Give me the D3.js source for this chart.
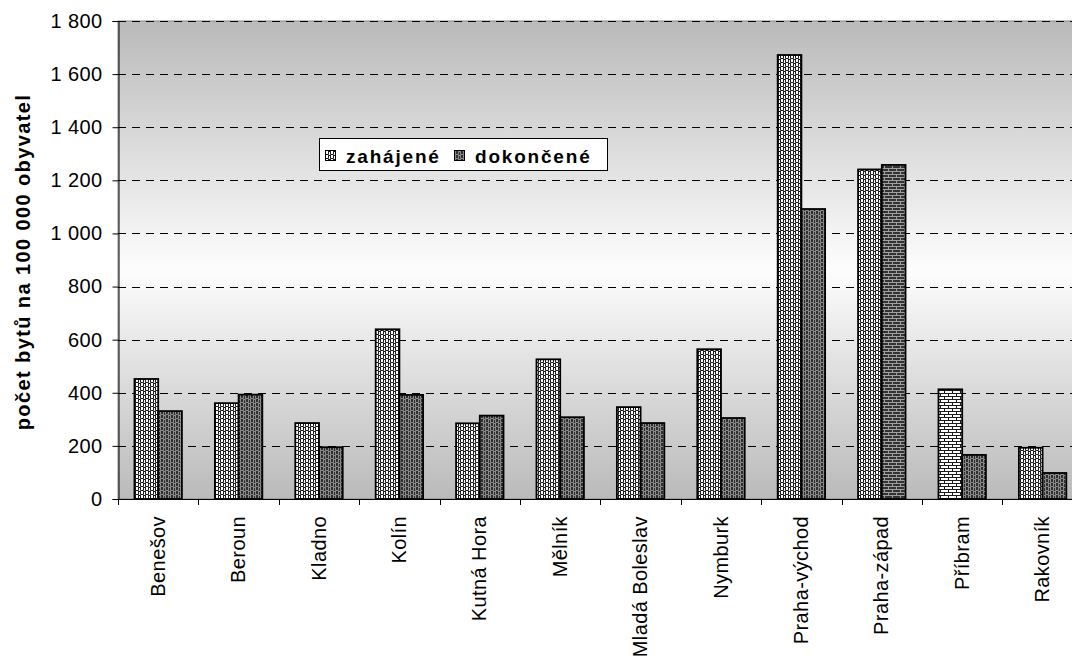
<!DOCTYPE html>
<html><head><meta charset="utf-8">
<script src="https://cdn.jsdelivr.net/npm/d3@7"></script>
<style>
html,body{margin:0;padding:0;background:#fff;}
svg{display:block;font-family:"Liberation Sans",Arial,sans-serif;}
</style></head>
<body>
<svg id="chart" width="1072" height="659"></svg>
<script>
const categories = ["Benešov","Beroun","Kladno","Kolín","Kutná Hora","Mělník","Mladá Boleslav","Nymburk","Praha-východ","Praha-západ","Příbram","Rakovník"];
const seriesNames = ["zahájené","dokončené"];
const zahajene  = [452, 361, 286, 639, 285, 526, 346, 564, 1672, 1241, 413, 193];
const dokoncene = [331, 393, 195, 392, 314, 308, 286, 305, 1092, 1258, 166, 98];
const yTicks = [0,200,400,600,800,1000,1200,1400,1600,1800];
const yTitle = "počet bytů na 100 000 obyvatel";

const svg = d3.select("#chart");
const pLeft = 118, pTop = 21, pBottom = 499, band = 80.4;
const pRight = pLeft + band * categories.length;

const defs = svg.append("defs");
const grad = defs.append("linearGradient").attr("id","bg").attr("x1",0).attr("y1",0).attr("x2",0).attr("y2",1);
grad.append("stop").attr("offset","0%").attr("stop-color","#bababa");
grad.append("stop").attr("offset","52%").attr("stop-color","#fdfdfd");
grad.append("stop").attr("offset","100%").attr("stop-color","#bababa");

function wave(id, bg, fg){
  const p = defs.append("pattern").attr("id",id).attr("patternUnits","userSpaceOnUse").attr("width",5).attr("height",4);
  p.append("rect").attr("width",5).attr("height",4).attr("fill",bg);
  p.append("path").attr("d","M0.5,0 V2.5 H3.5 V0 M0,3.5 H1 M3,3.5 H5").attr("fill","none").attr("stroke",fg).attr("stroke-width",1);
}
function brick(id, bg, fg){
  const p = defs.append("pattern").attr("id",id).attr("patternUnits","userSpaceOnUse").attr("width",8).attr("height",6);
  p.append("rect").attr("width",8).attr("height",6).attr("fill",bg);
  p.append("path").attr("d","M0,0.5 H8 M0,3.5 H8 M0.5,0.5 V3.5 M4.5,3.5 V6").attr("fill","none").attr("stroke",fg).attr("stroke-width",1);
}
wave("pz","#ffffff","#1a1a1a");
wave("pd","#2e2e2e","#8c8c8c");
brick("bz","#ffffff","#1a1a1a");
brick("bd","#333333","#a0a0a0");
const fillOverride = {"Praha-západ|1":"url(#bd)","Příbram|0":"url(#bz)"};

const y = d3.scaleLinear().domain([0,1800]).range([pBottom, pTop]);
const x0 = d3.scaleBand().domain(categories).range([pLeft, pRight]).paddingInner(0).paddingOuter(0);
const x1 = d3.scaleBand().domain([0,1]).range([band*0.205, band*0.795]);

// plot background
svg.append("rect").attr("x",pLeft).attr("y",pTop).attr("width",pRight-pLeft).attr("height",pBottom-pTop)
  .attr("fill","url(#bg)").attr("stroke","#8a8a8a").attr("stroke-width",1);

// grid lines
svg.append("g").selectAll("line").data(yTicks.filter(d=>d>0)).join("line")
  .attr("x1",pLeft).attr("x2",pRight).attr("y1",d=>Math.round(y(d))+0.5).attr("y2",d=>Math.round(y(d))+0.5)
  .attr("stroke","#000").attr("stroke-dasharray","8,6").attr("stroke-width",1);

// bars
const data = [zahajene, dokoncene];
const g = svg.append("g");
categories.forEach((c,i)=>{
  [0,1].forEach(s=>{
    const v = data[s][i];
    g.append("rect")
      .attr("x", x0(c)+x1(s)).attr("width", x1.bandwidth())
      .attr("y", y(v)).attr("height", pBottom - y(v))
      .attr("fill", fillOverride[c+"|"+s] || (s===0?"url(#pz)":"url(#pd)"))
      .attr("stroke","#000").attr("stroke-width",1.8);
  });
});

// y axis
const yAxis = d3.axisLeft(y).tickValues(yTicks).tickSize(6).tickPadding(10)
  .tickFormat(d=>d3.format(",")(d).replace(/,/g," "));
const ya = svg.append("g").attr("transform",`translate(${pLeft+0.5},0)`).call(yAxis);
ya.select(".domain").attr("stroke","#000");
ya.selectAll(".tick line").attr("stroke","#000");
ya.selectAll(".tick text").attr("font-size",20).attr("fill","#000").attr("letter-spacing","0.4px")
  .attr("font-family","'Liberation Sans',Arial,sans-serif");

// x axis line and ticks
svg.append("line").attr("x1",pLeft).attr("x2",pRight).attr("y1",pBottom+0.5).attr("y2",pBottom+0.5).attr("stroke","#000");
svg.append("g").selectAll("line").data(d3.range(categories.length+1)).join("line")
  .attr("x1",d=>Math.round(pLeft+d*band)+0.5).attr("x2",d=>Math.round(pLeft+d*band)+0.5)
  .attr("y1",pBottom).attr("y2",pBottom+6).attr("stroke","#000");

// category labels
svg.append("g").selectAll("text").data(categories).join("text")
  .attr("transform",d=>`translate(${x0(d)+band/2+6.5},516) rotate(-90)`)
  .attr("text-anchor","end").attr("font-size",20).attr("letter-spacing","0.4px")
  .attr("fill","#000").text(d=>d);

// y title
svg.append("text").attr("transform","translate(30,262) rotate(-90)")
  .attr("text-anchor","middle").attr("font-size",20).attr("font-weight","bold")
  .attr("letter-spacing","1.4px").attr("fill","#000").text(yTitle);

// legend
const lg = svg.append("g");
lg.append("rect").attr("x",319.5).attr("y",138.5).attr("width",288).attr("height",32)
  .attr("fill","#fff").attr("stroke","#000").attr("stroke-width",1);
const legendX = [325, 454];
seriesNames.forEach((n,i)=>{
  lg.append("rect").attr("x",legendX[i]+0.5).attr("y",150.5).attr("width",10).attr("height",10)
    .attr("fill", i===0?"url(#pz)":"url(#pd)").attr("stroke","#000").attr("stroke-width",1);
  lg.append("text").attr("x",legendX[i]+21).attr("y",162.5).attr("font-size",19).attr("font-weight","bold")
    .attr("letter-spacing","1.8px").attr("fill","#000").text(n);
});
</script>
</body></html>
